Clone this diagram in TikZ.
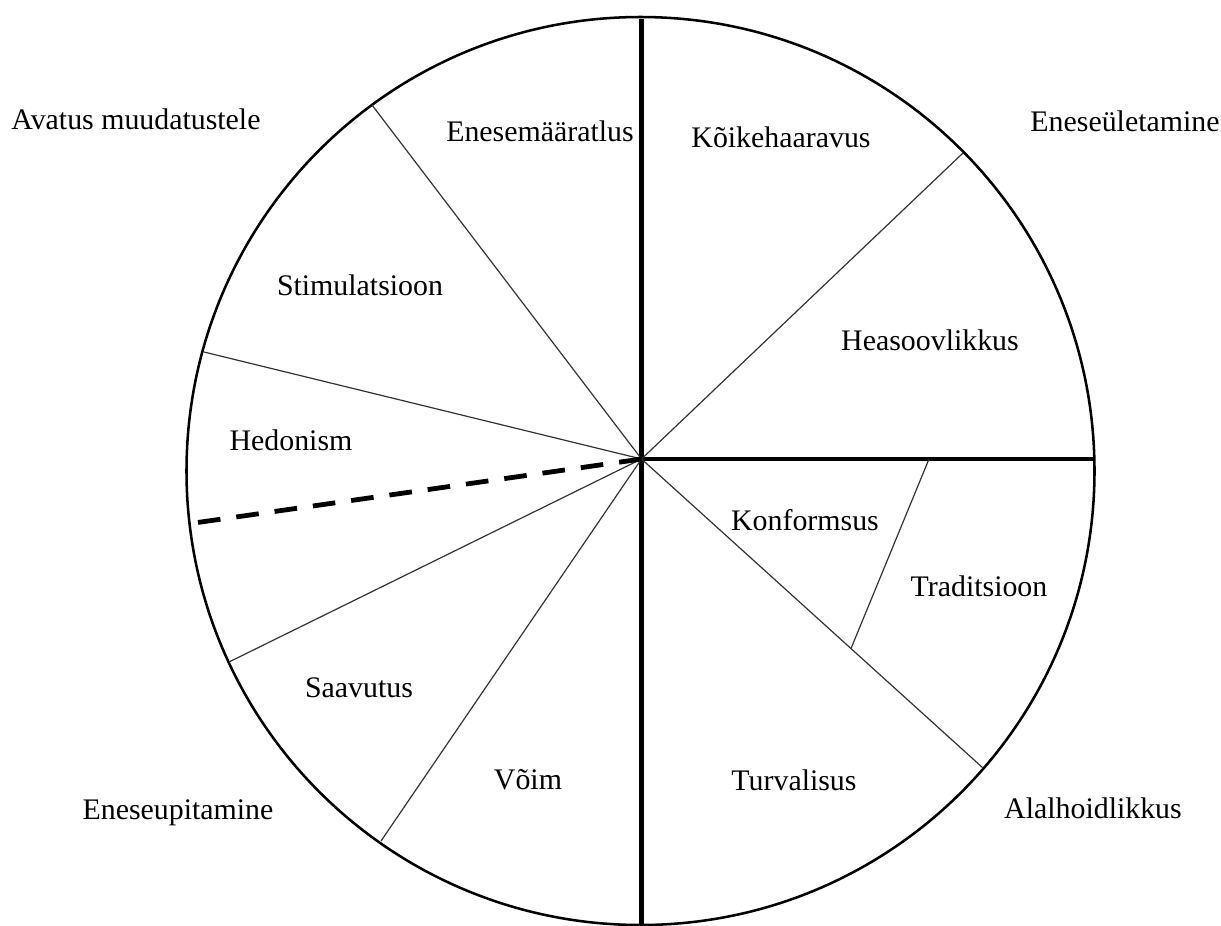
\documentclass[tikz,border=0pt]{standalone}
\usepackage{fontspec}
\setmainfont{Liberation Serif}
\begin{document}
\begin{tikzpicture}[x=0.75pt,y=-0.75pt,
  lbl/.style={inner sep=0pt,font=\fontsize{22.4}{26}\selectfont},
  rim/.style={line width=1.9pt},
  thick spoke/.style={line width=3.2pt},
  thin spoke/.style={line width=0.9pt, black!80},
  dash spoke/.style={line width=3.6pt, dash pattern=on 17pt off 12pt}]
\useasboundingbox (0,0) rectangle (1221,925);
\coordinate (c) at (641.5,459);
\draw[rim] (640.5,471) circle[radius=454*0.75pt];
% thick spokes
\draw[thick spoke] (641.5,19) coordinate (top) -- (641.5,925) coordinate (bot);
\draw[thick spoke] (c) -- (1095,459) coordinate (e);
% thin spokes
\draw[thin spoke] (c) -- (372,105) coordinate (p1);
\draw[thin spoke] (c) -- (204,352) coordinate (p2);
\draw[thin spoke] (c) -- (229,662) coordinate (p4);
\draw[thin spoke] (c) -- (381,841) coordinate (p5);
\draw[thin spoke] (c) -- (963,153) coordinate (p6);
\draw[thin spoke] (c) -- (983,768) coordinate (p7);
\coordinate (k1) at (929,459);
\coordinate (k2) at (851,648.5);
\draw[thin spoke] (k1) -- (k2);
% dashed
\draw[dash spoke] (c) -- (194,523) coordinate (p3);
% labels
\node[lbl] (avatus) at (136,119) {Avatus muudatustele};
\node[lbl] (uletamine) at (1125,121) {Eneseületamine};
\node[lbl] (maaratlus) at (540,131) {Enesemääratlus};
\node[lbl] (koike) at (781,137) {Kõikehaaravus};
\node[lbl] (stim) at (360,285) {Stimulatsioon};
\node[lbl] (heas) at (930,340) {Heasoovlikkus};
\node[lbl] (hedon) at (291,440) {Hedonism};
\node[lbl] (konf) at (805,520) {Konformsus};
\node[lbl] (trad) at (979,586) {Traditsioon};
\node[lbl] (saav) at (359,688) {Saavutus};
\node[lbl] (voim) at (528,780) {Võim};
\node[lbl] (turv) at (794,780) {Turvalisus};
\node[lbl] (upit) at (178,813) {Eneseupitamine};
\node[lbl] (alal) at (1093,808) {Alalhoidlikkus};
\end{tikzpicture}
\end{document}
